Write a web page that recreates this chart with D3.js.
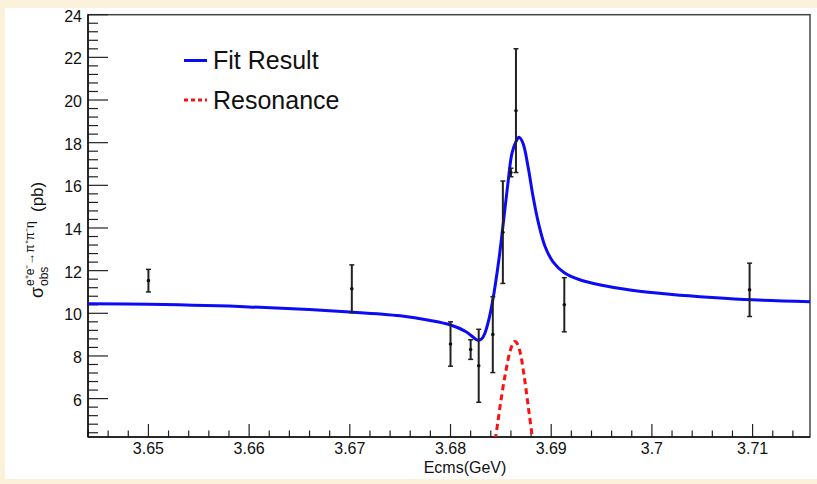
<!DOCTYPE html>
<html>
<head>
<meta charset="utf-8">
<script src="https://cdn.jsdelivr.net/npm/d3@7"></script>
<style>
  html, body { margin: 0; padding: 0; background: #fcf2dc; }
  svg { display: block; }
</style>
</head>
<body>
<div id="chart"></div>
<script>
// data points
const ptX   = [3.6500, 3.6702, 3.6800, 3.6820, 3.6828, 3.6842, 3.6852, 3.6860, 3.6865, 3.6913, 3.7097];
const ptY   = [11.53, 11.15, 8.56, 8.30, 7.54, 9.00, 13.80, 16.60, 19.50, 10.40, 11.10];
const ptErr = [0.53, 1.12, 1.04, 0.46, 1.71, 1.78, 2.40, 0.20, 2.90, 1.27, 1.25];

// fit result (blue)
const fitX = [3.6440, 3.6500, 3.6600, 3.6700, 3.6750, 3.6780, 3.6800, 3.6815, 3.6822, 3.6827,
              3.6831, 3.6834, 3.6838, 3.6842, 3.6848, 3.6852, 3.6857, 3.6861, 3.6865, 3.6868,
              3.6872, 3.6877, 3.6882, 3.6887, 3.6894, 3.6902, 3.6913, 3.6929, 3.6949, 3.6980,
              3.7020, 3.7060, 3.7100, 3.7157];
const fitY = [10.45, 10.42, 10.30, 10.06, 9.88, 9.66, 9.45, 9.15, 8.90, 8.74,
              8.80, 9.05, 9.69, 10.62, 12.50, 14.06, 16.09, 17.50, 18.05, 18.25,
              17.97, 16.87, 15.47, 14.30, 13.12, 12.40, 11.90, 11.56, 11.33, 11.08,
              10.88, 10.74, 10.63, 10.54];

// resonance (red dashed)
const resX = [3.6843, 3.6847, 3.6851, 3.6855, 3.6859, 3.6862, 3.6864, 3.6866, 3.6869, 3.6873, 3.6877, 3.6881, 3.6884];
const resY = [3.6, 4.9, 6.2, 7.3, 8.2, 8.58, 8.68, 8.6, 8.2, 7.1, 5.7, 4.3, 3.4];

const xTicks = [3.65, 3.66, 3.67, 3.68, 3.69, 3.70, 3.71];
const yTicks = [6, 8, 10, 12, 14, 16, 18, 20, 22, 24];

const W = 817, H = 484;
const svg = d3.select("#chart").append("svg")
    .attr("width", W).attr("height", H);

// white canvas
svg.append("rect").attr("x", 5).attr("y", 8).attr("width", W - 5).attr("height", 471)
    .attr("fill", "#ffffff");

const L = 88, R = 810, T = 14.7, B = 437;
const x = d3.scaleLinear().domain([3.644, 3.7157]).range([L, R]);
const y = d3.scaleLinear().domain([4.2, 24]).range([B, T]);

svg.append("defs").append("clipPath").attr("id", "clip")
    .append("rect").attr("x", L).attr("y", T).attr("width", R - L).attr("height", B - T);

// frame
svg.append("rect").attr("x", L).attr("y", T).attr("width", R - L).attr("height", B - T)
    .attr("fill", "none").attr("stroke", "#444").attr("stroke-width", 1.5);

// x ticks
const xMinor = d3.range(3.644, 3.7157, 0.002).map(v => +v.toFixed(3));
svg.append("g").selectAll("line").data(xMinor).join("line")
    .attr("x1", d => x(d)).attr("x2", d => x(d))
    .attr("y1", B).attr("y2", d => xTicks.some(t => Math.abs(t - d) < 1e-6) ? B - 13 : B - 6.5)
    .attr("stroke", "#222").attr("stroke-width", 1.2);
svg.append("g").selectAll("text").data(xTicks).join("text")
    .attr("x", d => x(d)).attr("y", 453.5)
    .attr("text-anchor", "middle")
    .attr("font-family", "Liberation Sans, Arial, sans-serif").attr("font-size", 16)
    .attr("fill", "#111")
    .text(d => String(+d.toFixed(2)));

// y ticks
const yMinor = d3.range(0, 50).map(i => +(24 - 0.4 * i).toFixed(1)).filter(v => v > 4.2);
svg.append("g").selectAll("line").data(yMinor).join("line")
    .attr("x1", L).attr("x2", d => yTicks.some(t => Math.abs(t - d) < 1e-6) ? L + 20 : L + 10)
    .attr("y1", d => y(d)).attr("y2", d => y(d))
    .attr("stroke", "#222").attr("stroke-width", 1.2);
svg.append("g").selectAll("text").data(yTicks).join("text")
    .attr("x", 82).attr("y", d => y(d) + 1.5)
    .attr("text-anchor", "end").attr("dominant-baseline", "central")
    .attr("font-family", "Liberation Sans, Arial, sans-serif").attr("font-size", 16)
    .attr("fill", "#111")
    .text(d => d);

// axis lines
svg.append("line").attr("x1", L).attr("x2", R).attr("y1", B).attr("y2", B)
    .attr("stroke", "#111").attr("stroke-width", 1.5);
svg.append("line").attr("x1", L).attr("x2", L).attr("y1", T).attr("y2", B)
    .attr("stroke", "#111").attr("stroke-width", 1.5);

// x title
svg.append("text").attr("x", 465).attr("y", 473).attr("text-anchor", "middle")
    .attr("font-family", "Liberation Sans, Arial, sans-serif").attr("font-size", 16)
    .attr("fill", "#111").text("Ecms(GeV)");

// y title
const yt = svg.append("g").attr("transform", "translate(43,298) rotate(-90)")
    .attr("font-family", "Liberation Sans, Arial, sans-serif").attr("fill", "#111");
yt.append("text").attr("x", 0).attr("y", 0).attr("font-size", 18).text("σ");
yt.append("text").attr("x", 12).attr("y", -9.5).attr("font-size", 12).text("e⁺e⁻→π⁺π⁻η");
yt.append("text").attr("x", 12).attr("y", 4.5).attr("font-size", 12).text("obs");
yt.append("text").attr("x", 86).attr("y", 0).attr("font-size", 17).text("(pb)");

const plot = svg.append("g").attr("clip-path", "url(#clip)");

// fit curve
const line = d3.line().x(d => x(d[0])).y(d => y(d[1])).curve(d3.curveCatmullRom.alpha(0.5));
plot.append("path").datum(d3.zip(fitX, fitY))
    .attr("d", line).attr("fill", "none").attr("stroke", "#0b0bf5").attr("stroke-width", 3);

// resonance
const rline = d3.line().x(d => x(d[0])).y(d => y(d[1])).curve(d3.curveCatmullRom);
plot.append("path").datum(d3.zip(resX, resY))
    .attr("d", rline).attr("fill", "none").attr("stroke", "#ff1010")
    .attr("stroke-width", 3).attr("stroke-dasharray", "6,4");

// data points with error bars
const pts = d3.range(ptX.length).map(i => ({x: ptX[i], y: ptY[i], e: ptErr[i]}));
const g = plot.append("g").attr("stroke", "#222");
g.selectAll(".bar").data(pts).join("line").attr("class", "bar")
    .attr("x1", d => x(d.x)).attr("x2", d => x(d.x))
    .attr("y1", d => y(d.y - d.e)).attr("y2", d => y(d.y + d.e))
    .attr("stroke-width", 2);
g.selectAll(".capT").data(pts).join("line").attr("class", "capT")
    .attr("x1", d => x(d.x) - 2.5).attr("x2", d => x(d.x) + 2.5)
    .attr("y1", d => y(d.y + d.e)).attr("y2", d => y(d.y + d.e)).attr("stroke-width", 1.5);
g.selectAll(".capB").data(pts).join("line").attr("class", "capB")
    .attr("x1", d => x(d.x) - 2.5).attr("x2", d => x(d.x) + 2.5)
    .attr("y1", d => y(d.y - d.e)).attr("y2", d => y(d.y - d.e)).attr("stroke-width", 1.5);
g.selectAll("circle").data(pts).join("circle")
    .attr("cx", d => x(d.x)).attr("cy", d => y(d.y)).attr("r", 1.8)
    .attr("fill", "#111").attr("stroke", "none");

// legend
const lg = svg.append("g").attr("font-family", "Liberation Sans, Arial, sans-serif")
    .attr("font-size", 25).attr("fill", "#111");
lg.append("line").attr("x1", 184).attr("x2", 207).attr("y1", 60.5).attr("y2", 60.5)
    .attr("stroke", "#0b0bf5").attr("stroke-width", 3);
lg.append("text").attr("x", 213).attr("y", 68.5).text("Fit Result");
lg.append("line").attr("x1", 184).attr("x2", 207).attr("y1", 100).attr("y2", 100)
    .attr("stroke", "#ff1010").attr("stroke-width", 3).attr("stroke-dasharray", "4,3");
lg.append("text").attr("x", 213).attr("y", 108.5).text("Resonance");
</script>
</body>
</html>
